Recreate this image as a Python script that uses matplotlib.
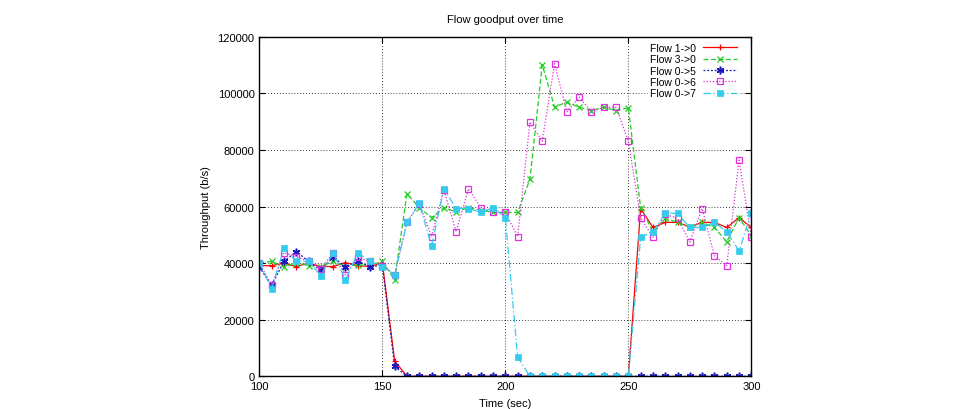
import matplotlib.pyplot as plt
import numpy as np

# time axis, one sample every 5 s
t = np.arange(100, 305, 5)

flow_1_0 = [39100, 39100, 40000, 38800, 40000, 38800, 38800, 40200, 39100, 38800, 40200,
            5400, 0, 0, 0, 0, 0, 0, 0, 0, 0, 0, 0, 0, 0, 0, 0, 0, 0, 0, 0,
            59300, 52600, 54400, 54400, 52800, 54400, 54400, 52600, 56100, 52600]
flow_3_0 = [40200, 40600, 38600, 40200, 39100, 38800, 40600, 38800, 39400, 39100, 40600,
            34100, 64600, 59600, 56100, 59600, 58100, 59600, 58700, 57900, 57900,
            57900, 69600, 110100, 95200, 96900, 95100, 93900, 95100, 93900, 94900,
            59600, 51100, 55800, 54400, 52600, 54400, 52600, 47500, 56100, 49700]
flow_0_5 = [38600, 32100, 40600, 44100, 40600, 37400, 42100, 38800, 40600, 38800, 39100,
            3500, 0, 0, 0, 0, 0, 0, 0, 0, 0, 0, 0, 0, 0, 0, 0, 0, 0, 0, 0,
            0, 0, 0, 0, 0, 0, 0, 0, 0, 0]
flow_0_6 = [40200, 32100, 43700, 42300, 40600, 37800, 43700, 35900, 42100, 40600, 39100,
            35900, 54400, 61000, 49400, 66000, 51100, 66300, 59600, 57900, 57900,
            49400, 89900, 83100, 110500, 93500, 98600, 93500, 95100, 95100, 83100,
            56100, 49100, 57300, 55800, 47500, 59300, 42600, 39100, 76400, 49300]
flow_0_7 = [40200, 30900, 45200, 40600, 40600, 35600, 43700, 34000, 43700, 40600, 38800,
            35900, 54400, 61200, 46000, 66300, 59300, 59300, 57900, 59600, 56100,
            6800, 0, 0, 0, 0, 0, 0, 0, 0, 0,
            49100, 51100, 57600, 57600, 52600, 52600, 54400, 51100, 44400, 57600]

plt.rcParams['font.family'] = ['Liberation Sans', 'DejaVu Sans']

fig = plt.figure(figsize=(9.62, 4.10), dpi=100)
ax = fig.add_axes([0.2696, 0.0798, 0.5114, 0.828])

ax.plot(t, flow_1_0, color='#ff0000', lw=0.9, ls='-', marker='+', ms=5, mew=0.9, label='Flow 1->0')
ax.plot(t, flow_3_0, color='#22cc22', lw=0.9, ls=(0, (4, 2)), marker='x', ms=4.5, mew=0.9, label='Flow 3->0')
ax.plot(t, flow_0_5, color='#1a1abb', lw=0.9, ls=(0, (1.5, 1.5)), marker=(6, 2, 0), ms=5.5, mew=1.1, label='Flow 0->5')
ax.plot(t, flow_0_6, color='#dd33dd', lw=0.9, ls=(0, (1, 1.5)), marker='s', ms=5, mew=0.9,
        mfc='none', label='Flow 0->6')
ax.plot(t, flow_0_7, color='#33ccee', lw=0.9, ls=(0, (6, 2, 1, 2)), marker='s', ms=5, mew=0.5,
        mfc='#33ccee', label='Flow 0->7')

ax.set_xlim(100, 300)
ax.set_ylim(0, 120000)
ax.set_xticks([100, 150, 200, 250, 300])
ax.set_yticks(np.arange(0, 120001, 20000))
ax.grid(True, color='black', ls=(0, (1, 2.5)), lw=0.6)
ax.tick_params(direction='in', top=True, right=True, labelsize=8, length=4)
for s in ax.spines.values():
    s.set_linewidth(1.0)

ax.set_title('Flow goodput over time', fontsize=8, pad=11)
ax.set_xlabel('Time (sec)', fontsize=8, labelpad=5)
ax.set_ylabel('Throughput (b/s)', fontsize=8, labelpad=5)

leg = ax.legend(loc='upper right', bbox_to_anchor=(0.975, 0.988), markerfirst=False,
                frameon=True, fontsize=7.5, handlelength=3.3, labelspacing=0.13,
                borderaxespad=0, borderpad=0.2, handletextpad=0.6, fancybox=False)
leg.get_frame().set_edgecolor('white')
leg.get_frame().set_alpha(1)

plt.savefig('out.png', dpi=100)
